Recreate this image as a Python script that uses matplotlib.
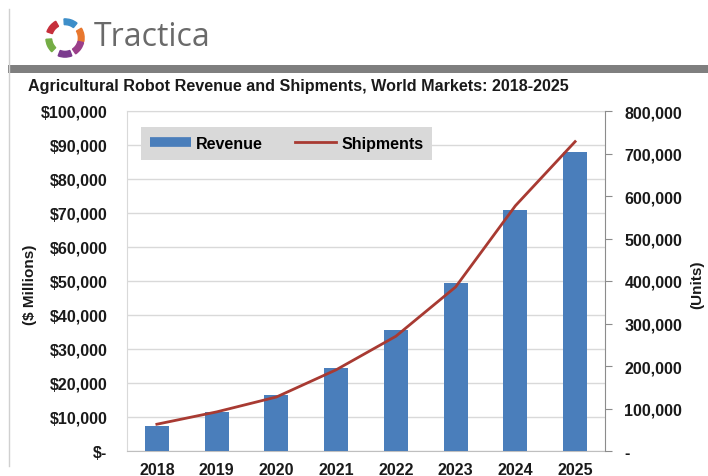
import matplotlib
matplotlib.use("Agg")
import matplotlib.pyplot as plt
from matplotlib.patches import Wedge, Rectangle
from matplotlib.lines import Line2D

# data
years = ["2018", "2019", "2020", "2021", "2022", "2023", "2024", "2025"]
revenue = [7400, 11500, 16500, 24400, 35600, 49400, 71000, 87900]          # $ millions
shipments = [63000, 92000, 127000, 191000, 270000, 386000, 577000, 728000]  # units

rev_ticks = list(range(0, 100001, 10000))
rev_labels = ["$-"] + ["${:,}".format(v) for v in rev_ticks[1:]]
ship_ticks = list(range(0, 800001, 100000))
ship_labels = ["-"] + ["{:,}".format(v) for v in ship_ticks[1:]]

plt.rcParams['font.family'] = ['Liberation Sans', 'DejaVu Sans']

W, H = 708, 477
fig = plt.figure(figsize=(W / 100, H / 100), dpi=100)

# header: logo, rule, title
fig.add_artist(Line2D([9 / W, 9 / W], [0.02, 0.98], color="#d0d0d0", lw=1))
fig.add_artist(Rectangle((8 / W, 1 - 74 / H), 1, 8 / H, color="#7f7f7f", lw=0))

logo = fig.add_axes([44 / W, 1 - 60 / H, 42 / W, 42 / H])
logo.set_xlim(-1.1, 1.1)
logo.set_ylim(-1.1, 1.1)
logo.set_aspect("equal")
logo.axis("off")
petals = [(10, "#e8772e"), (72, "#3d8ec9"), (140, "#c62f3b"),
          (205, "#74ad45"), (270, "#7b3b8e"), (325, "#9a3f8a")]
for ang, col in petals:
    logo.add_patch(Wedge((0, 0), 1.0, ang - 21, ang + 21, width=0.3, color=col))
fig.text(94 / W, 1 - 38 / H, "Tractica", fontsize=23, color="#6a6a6a",
         family=["Open Sans", "DejaVu Sans"], va="center", ha="left")

fig.text(28 / W, 1 - 87 / H, "Agricultural Robot Revenue and Shipments, World Markets: 2018-2025",
         fontsize=11.6, fontweight="bold", va="center", ha="left", color="#1a1a1a")

# main chart
ax = fig.add_axes([127 / W, 1 - 452 / H, (605 - 127) / W, (452 - 112) / H])
x = list(range(len(years)))
ax.bar(x, revenue, width=0.4, color="#4a7ebb", zorder=3)
ax.set_xlim(-0.5, len(years) - 0.5)
ax.set_ylim(0, 100000)
ax.set_yticks(rev_ticks)
ax.set_yticklabels(rev_labels)
ax.set_xticks(x)
ax.set_xticklabels(years)
ax.grid(axis="y", color="#d9d9d9", lw=1, zorder=0)
ax.tick_params(axis="both", length=0, labelsize=11.5, colors="#1a1a1a")
ax.tick_params(axis="y", pad=14)
ax.tick_params(axis="x", pad=8)
for lab in ax.get_xticklabels() + ax.get_yticklabels():
    lab.set_fontweight("bold")
for side in ["left", "top"]:
    ax.spines[side].set_color("#d9d9d9")
ax.spines["bottom"].set_color("#bfbfbf")
ax.spines["right"].set_visible(False)

ax2 = ax.twinx()
ax2.plot(x, shipments, color="#a83a32", lw=2, zorder=4)
ax2.set_ylim(0, 800000)
ax2.set_yticks(ship_ticks)
ax2.set_yticklabels(ship_labels)
ax2.tick_params(axis="y", length=5, labelsize=11.5, colors="#1a1a1a", pad=9)
ax2.tick_params(axis="y", color="#8c8c8c")
for lab in ax2.get_yticklabels():
    lab.set_fontweight("bold")
for side in ["left", "top", "bottom"]:
    ax2.spines[side].set_visible(False)
ax2.spines["right"].set_color("#8c8c8c")

fig.text(30 / W, 1 - 285 / H, "($ Millions)", rotation=90, fontsize=11,
         fontweight="bold", va="center", ha="center", color="#1a1a1a")
fig.text(697 / W, 1 - 285 / H, "(Units)", rotation=90, fontsize=11,
         fontweight="bold", va="center", ha="center", color="#1a1a1a")

handles = [Line2D([], [], color="#4a7ebb", lw=7, solid_capstyle="butt"),
           Line2D([], [], color="#a83a32", lw=2)]
leg = ax2.legend(handles, ["Revenue", "Shipments"], ncol=2, loc="upper left",
                 bbox_to_anchor=(0.029, 0.953), frameon=True, fancybox=False,
                 facecolor="#d9d9d9", edgecolor="none", framealpha=1,
                 prop={"weight": "bold", "size": 11.5}, handlelength=2.6,
                 columnspacing=2.0, handletextpad=0.3, borderpad=0.55,
                 borderaxespad=0)
leg.get_frame().set_linewidth(0)

fig.savefig("out.png", dpi=100)
